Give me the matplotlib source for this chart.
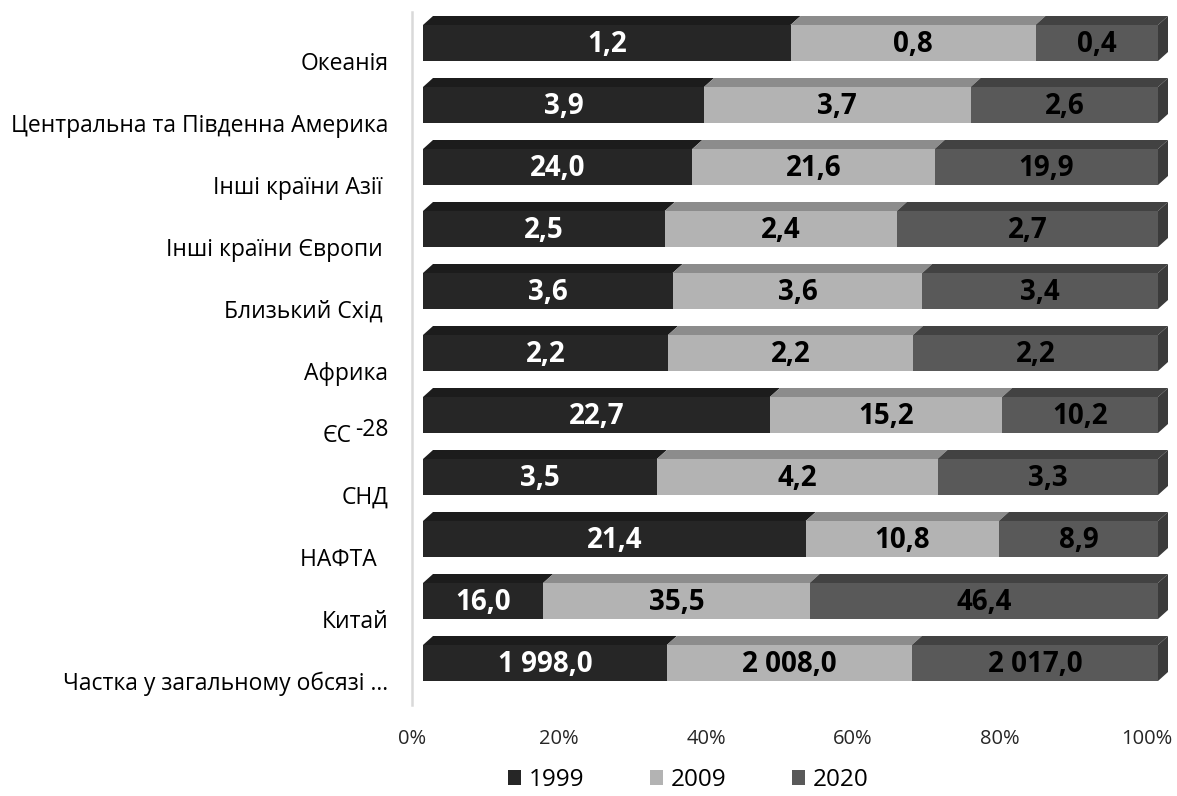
import matplotlib

matplotlib.use("Agg")
import matplotlib.pyplot as plt
import matplotlib.transforms as mtransforms
import numpy as np
from matplotlib.patches import Patch, Polygon

plt.rcParams["font.family"] = ["Open Sans", "DejaVu Sans"]

regions = [
    "Океанія",
    "Центральна та Південна Америка",
    "Інші країни Азії ",
    "Інші країни Європи ",
    "Близький Схід ",
    "Африка",
    "ЄС",
    "СНД",
    "НАФТА  ",
    "Китай",
    "Частка у загальному обсязі …",
]
eu_suffix = "-28"
eu_row = 6
years = ["1999", "2009", "2020"]
v1999 = [1.2, 3.9, 24.0, 2.5, 3.6, 2.2, 22.7, 3.5, 21.4, 16.0, 1998.0]
v2009 = [0.8, 3.7, 21.6, 2.4, 3.6, 2.2, 15.2, 4.2, 10.8, 35.5, 2008.0]
v2020 = [0.4, 2.6, 19.9, 2.7, 3.4, 2.2, 10.2, 3.3, 8.9, 46.4, 2017.0]

front_colors = ["#262626", "#b3b3b3", "#595959"]
top_colors = ["#1c1c1c", "#8c8c8c", "#424242"]
side_color = "#3b3b3b"
label_colors = ["white", "black", "black"]

W, H, DPI = 1177, 796, 100
# plot geometry in pixels
x0_px, x100_px = 412, 1147
y_top_px, y_bot_px = 12, 705
first_center_px, row_step_px = 43, 62
bar_h_px = 36
shift_px = 11          # front faces sit a little right of the value scale
depth_x_px, depth_y_px = 10, 9
label_drop_px = 18


def fmt(v):
    return f"{v:,.1f}".replace(",", " ").replace(".", ",")


fig = plt.figure(figsize=(W / DPI, H / DPI), dpi=DPI)
ax = fig.add_axes([x0_px / W, 1 - y_bot_px / H,
                   (x100_px - x0_px) / W, (y_bot_px - y_top_px) / H])

ax.set_xlim(0, 100)
ax.set_ylim((y_bot_px - first_center_px) / row_step_px,
            (y_top_px - first_center_px) / row_step_px)

px_x = 100 / (x100_px - x0_px)
px_y = 1 / row_step_px
bar_h = bar_h_px * px_y
dxd, dyd = depth_x_px * px_x, depth_y_px * px_y

shifted = ax.transData + mtransforms.ScaledTranslation(shift_px / DPI, 0, fig.dpi_scale_trans)

data = np.array([v1999, v2009, v2020]).T
shares = data / data.sum(axis=1, keepdims=True) * 100


def face(points, color):
    ax.add_patch(Polygon(points, closed=True, facecolor=color, edgecolor="none",
                         transform=shifted, clip_on=False))


for i in range(len(regions)):
    yt, yb = i - bar_h / 2, i + bar_h / 2
    left = 0.0
    for k in range(3):
        right = left + shares[i, k]
        face([(left, yt), (right, yt), (right, yb), (left, yb)], front_colors[k])
        face([(left, yt), (right, yt), (right + dxd, yt - dyd), (left + dxd, yt - dyd)],
             top_colors[k])
        ax.text((left + right) / 2, i + 0.02, fmt(data[i, k]), transform=shifted,
                ha="center", va="center", fontsize=20, fontweight="bold",
                color=label_colors[k], clip_on=False)
        left = right
    face([(100, yt), (100, yb), (100 + dxd, yb - dyd), (100 + dxd, yt - dyd)], side_color)

ax.set_xticks(np.arange(0, 101, 20))
ax.set_xticklabels([f"{t}%" for t in range(0, 101, 20)], fontsize=14.5, color="#262626")
ytick_pos = np.arange(len(regions)) + label_drop_px / row_step_px
ax.set_yticks(ytick_pos)
tick_texts = list(regions)
tick_texts[eu_row] = ""
ax.set_yticklabels(tick_texts, fontsize=16.5, color="black")
ax.tick_params(axis="x", length=0, pad=17)
ax.tick_params(axis="y", length=0, pad=17)

# ЄС with its raised "-28"
ax.annotate(regions[eu_row], xy=(0, ytick_pos[eu_row]), xycoords=("axes fraction", "data"),
            xytext=(-60, 0), textcoords="offset pixels", ha="right", va="center_baseline",
            fontsize=16.5, color="black", annotation_clip=False)
ax.annotate(eu_suffix, xy=(0, ytick_pos[eu_row]), xycoords=("axes fraction", "data"),
            xytext=(-23, 6), textcoords="offset pixels", ha="right", va="center_baseline",
            fontsize=16.5, color="black", annotation_clip=False)

for side in ["top", "right", "bottom"]:
    ax.spines[side].set_visible(False)
ax.spines["left"].set_color("#d9d9d9")
ax.spines["left"].set_linewidth(1.8)
ax.patch.set_visible(False)

handles = [Patch(facecolor=c, edgecolor="none") for c in front_colors]
fig.legend(handles, years, loc="center", bbox_to_anchor=(688 / W, 1 - 780 / H),
           ncol=3, frameon=False, fontsize=17.5, handlelength=0.55, handleheight=0.55,
           handletextpad=0.3, columnspacing=2.7, borderpad=0)

fig.savefig("out.png", dpi=DPI)
